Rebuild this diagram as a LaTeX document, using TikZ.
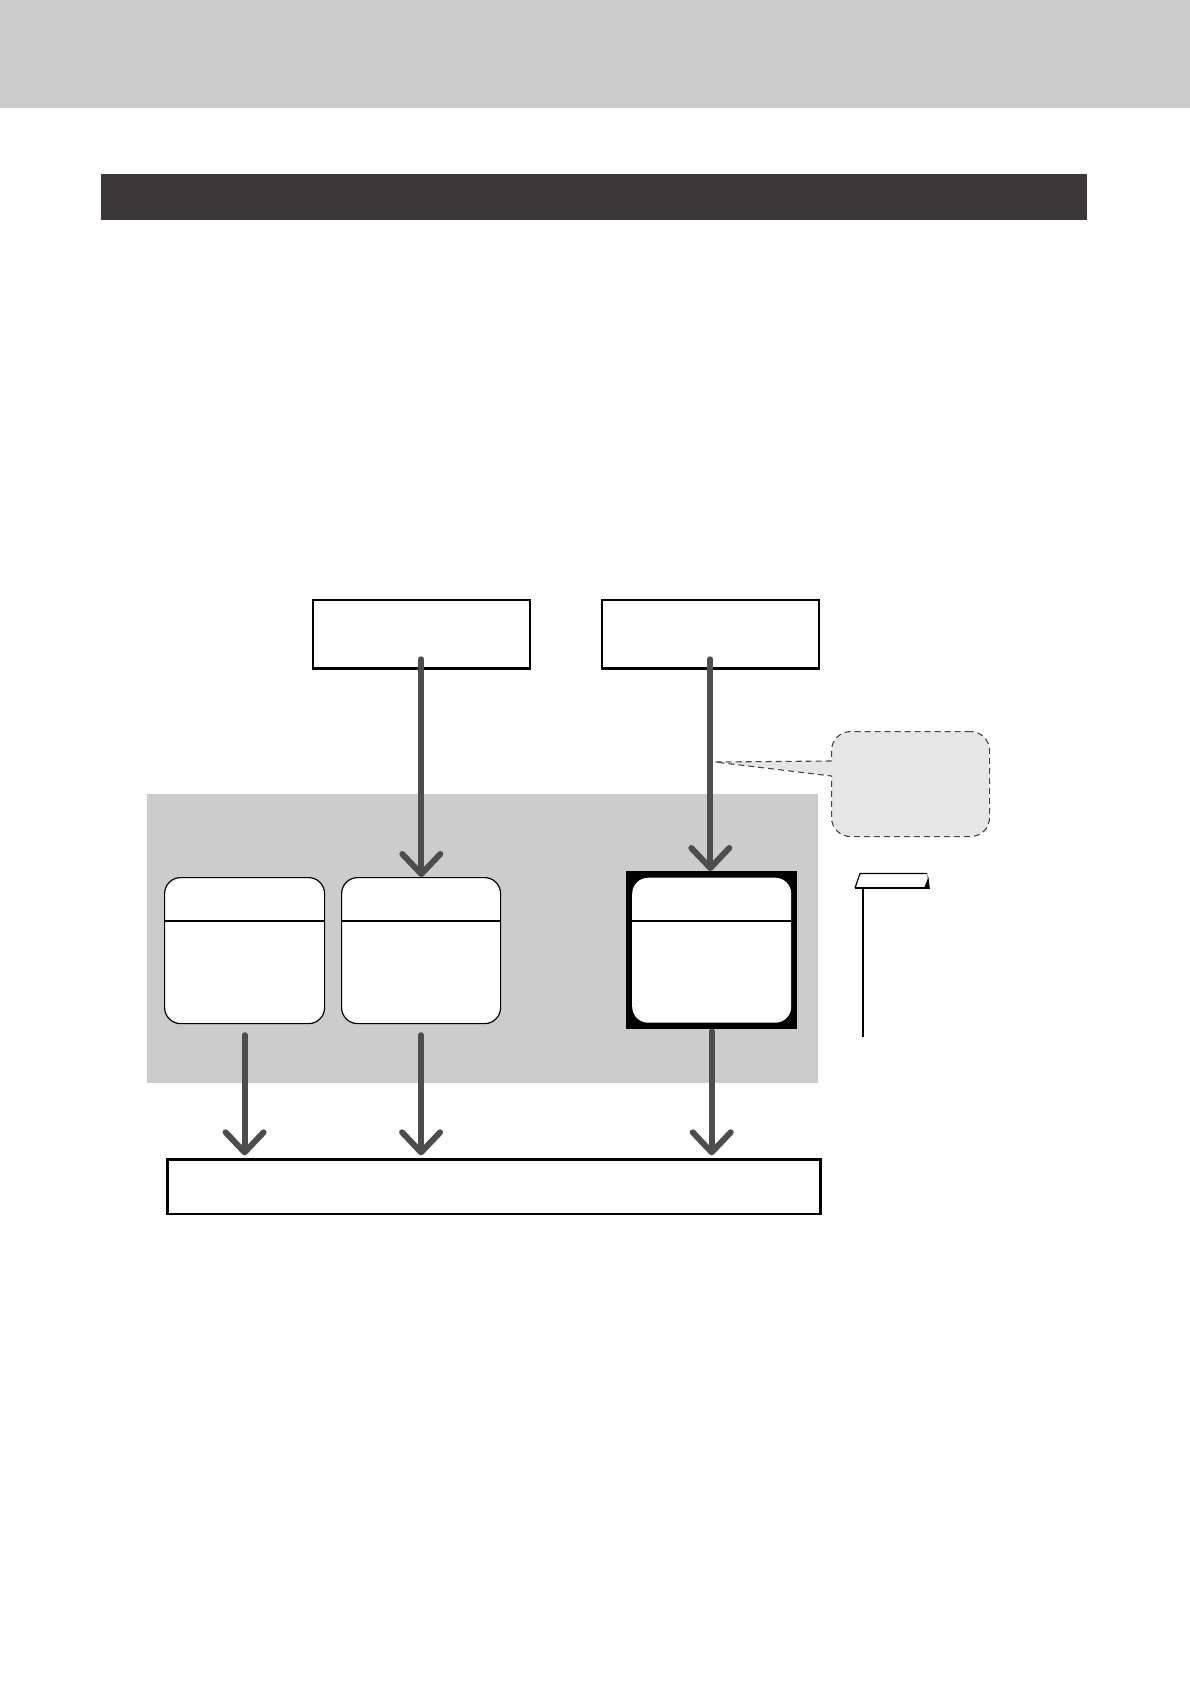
\documentclass[tikz,border=0pt]{standalone}
\usetikzlibrary{arrows.meta,calc}
\definecolor{bandgray}{HTML}{CCCCCC}
\definecolor{panelgray}{HTML}{CCCCCC}
\definecolor{darkbar}{HTML}{3C3738}
\definecolor{arrowgray}{HTML}{4D4D4D}
\definecolor{calloutfill}{HTML}{E6E6E6}
\definecolor{calloutline}{HTML}{444444}
\tikzset{
  plainbox/.style={draw=black, line width=2.6pt, fill=white, inner sep=0pt, outer sep=0pt, anchor=north west},
  roundbox/.style={draw=black, line width=1.2pt, fill=white, rounded corners=16pt, inner sep=0pt, anchor=north west},
  blackframe/.style={fill=black, draw=none, inner sep=0pt, anchor=north west},
  whiteround/.style={fill=white, draw=none, rounded corners=16pt, inner sep=0pt, anchor=north west},
  divider/.style={draw=black, line width=1.2pt},
  flow/.style={draw=arrowgray, line width=6pt, line cap=round, -{Straight Barb[length=20pt,width=38pt,round]}},
  calloutdash/.style={draw=calloutline, dash pattern=on 6pt off 4pt, line width=1.1pt},
  calloutbox/.style={fill=calloutfill, calloutdash, rounded corners=19pt, inner sep=0pt, anchor=north west},
}
\begin{document}
\begin{tikzpicture}[x=1pt,y=-1pt]
\useasboundingbox (0,0) rectangle (1190,1684);
% top band and dark bar
\fill[bandgray] (0,0) rectangle (1190,108);
\fill[darkbar] (101,174) rectangle (1087,220);
% gray panel
\fill[panelgray] (147,794) rectangle (818,1083);
% top boxes
\node[plainbox, minimum width=217pt, minimum height=68.5pt] (t1) at (312.8,599.8) {};
\node[plainbox, minimum width=217pt, minimum height=68.5pt] (t2) at (601.8,599.8) {};
% rounded boxes
\node[roundbox, minimum width=160pt, minimum height=146pt] (b1) at (164,877) {};
\node[roundbox, minimum width=159pt, minimum height=146pt] (b2) at (341,877) {};
\draw[divider] ([yshift=-44pt]b1.north west) -- ([yshift=-44pt]b1.north east);
\draw[divider] ([yshift=-44pt]b2.north west) -- ([yshift=-44pt]b2.north east);
% highlighted box
\node[blackframe, minimum width=171pt, minimum height=158pt] (b3) at (626,871) {};
\node[whiteround, minimum width=159pt, minimum height=145pt] (b3in) at (632,877.5) {};
\draw[divider] ([yshift=-43.5pt]b3in.north west) -- ([yshift=-43.5pt]b3in.north east);
% bottom box
\node[plainbox, minimum width=653pt, minimum height=54.5pt] (bot) at (167.3,1159.3) {};
% callout
\node[calloutbox, minimum width=158pt, minimum height=105pt] (call) at (831,731) {};
\coordinate (ptip) at (715,762);
\fill[calloutfill] (ptip) -- (834,761) -- (834,776) -- cycle;
\draw[calloutdash] (831.5,761) -- (ptip) -- (831.5,776);
% flag marker
\fill[white] (860,873.5) -- (927,873.5) -- (930,888) -- (855,888) -- cycle;
\draw[black, line width=1.2pt] (855,888) -- (860,873.5) -- (927,873.5);
\draw[black, line width=1.2pt] (855,888) -- (930,888);
\draw[gray, line width=0.6pt] (927,873.5) -- (929.5,888);
\fill[black] (928.5,877) -- (929.5,888) -- (924,888) -- cycle;
\coordinate (flagfoot) at (863,888);
\coordinate (flagend) at (863,1037);
\draw[black, line width=1.3pt] (flagfoot) -- (flagend);
% arrows
\draw[flow] ([yshift=9pt]t1.south) -- (t1.south |- b2.north);
\draw[flow] ([yshift=9pt]t2.south) -- (t2.south |- b3.north);
\draw[flow] ([yshift=-11pt]b1.south) -- ([yshift=4pt]b1.south |- bot.north);
\draw[flow] ([yshift=-11pt]b2.south) -- ([yshift=4pt]b2.south |- bot.north);
\draw[flow] ([yshift=-2pt]b3.south) -- ([yshift=4pt]b3.south |- bot.north);
\end{tikzpicture}
\end{document}
